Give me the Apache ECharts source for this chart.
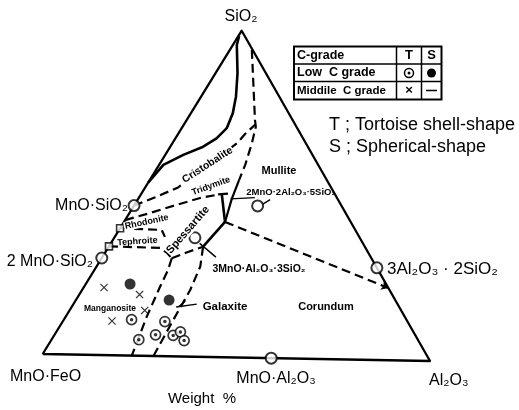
<!DOCTYPE html>
<html>
<head>
<meta charset="utf-8">
<script src="https://cdn.jsdelivr.net/npm/echarts@6/dist/echarts.min.js"></script>
<style>
  html, body { margin: 0; padding: 0; background: #fff; }
  #chart { width: 519px; height: 410px; }
</style>
</head>
<body>
<div id="chart"></div>
<script>
// Every composition is [Al2O3 wt%, SiO2 wt%]; the rest is MnO·FeO.

const triangleOutline = [[0, 0], [100, 0], [0, 100], [0, 0]];

// Two-liquid (immiscibility) boundary, solid
const liquidImmiscibility = [[0, 53], [1.1, 58.5], [4.6, 61.7], [8.4, 64.3], [10.5, 66.9],
  [11.5, 70.1], [10.7, 74.7], [8.9, 79.8], [5.6, 87], [1.0, 95.6], [0.2, 98.3]];

// Field boundaries, dashed
const cristobaliteMullite = [[5.6, 94.2], [17.4, 72.8], [18.7, 70.7], [20.3, 65.6], [22.0, 58.9], [22.8, 54.3]];
const cristobaliteTridymite = [[0, 45.9], [4.1, 48.6], [8.4, 51.7], [16.5, 65.6], [17.1, 68.4], [18.2, 71.4]];
const tridymiteRhodonite = [[0, 41.4], [5.2, 43.7], [10.6, 46.3], [15.7, 48.6], [19.9, 49.8]];
const rhodoniteTephroite = [[0, 38.9], [10.9, 38.6], [12.8, 36.5]];
const tephroiteManganosite = [[0, 33.3], [13.3, 33.1], [15.9, 31.6], [17.9, 30.0]];
const spessartiteGalaxite = [[17.9, 30.0], [20.5, 31.7], [24.1, 33.7]];
const manganositeGalaxite = [[17.9, 30.0], [18.8, 26.4], [19.4, 21.2], [20.7, 12.0], [23.0, 0]];
const galaxiteCorundum = [[24.1, 33.7], [26.5, 27.6], [27.6, 20.4], [28.0, 11.1], [28.6, 0]];
const mulliteCorundum = [[25.8, 41.4], [77.9, 22.1]];

// Field boundaries, solid
const tridymiteMullite = [[22.8, 54.3], [23.9, 48.5], [25.8, 41.4]];
const spessartiteMullite = [[25.8, 41.4], [24.1, 33.7]];
const cordieriteBar = [[19.7, 49.8], [22.1, 50.1]];
const cordieriteStem = [[20.6, 49.9], [25.8, 41.4]];

// Label leaders
const cordieriteLeader = [[23.6, 48.5], [29.6, 49.0]];
const cordieriteArrow = [[32.6, 47.0], [33.8, 48.5]];
const spessartiteLeader = [[22.7, 34.7], [29.0, 30.6]];
const galaxiteLeader = [[31.5, 16.1], [26.7, 15.1]];
const galaxiteTick = [[27.3, 15.3], [28.1, 17.0]];

// Compounds: MnO·SiO2, 2MnO·SiO2, 3Al2O3·2SiO2, MnO·Al2O3, 2MnO·2Al2O3·5SiO2, 3MnO·Al2O3·3SiO2
const compounds = [[0, 45.9], [0, 29.7], [71.8, 28.2], [59.0, 0], [31.6, 46.5], [20.6, 36.4]];
// Binary eutectics on the MnO–SiO2 side
const eutectics = [[0, 38.9], [0, 33.3]];

// Inclusions
const lowGradeTortoise = [[17.3, 11.0], [26.1, 10.6], [25.8, 6.5], [22.3, 4.9], [30.4, 6.4], [31.7, 7.5], [34.0, 4.9]];
const lowGradeSpherical = [[11.3, 21.9], [23.8, 17.2]];
const middleGradeTortoise = [[5.2, 20.7], [15.4, 18.7], [19.2, 13.9], [12.5, 10.5]];

// Corner placement of the triangle on the page
const CORNER_MNO = [42.7, 354];
const CORNER_AL = [430, 361];
const CORNER_SI = [241.7, 30.7];

function toPlane(p) {
  const a = p[0] / 100, s = p[1] / 100;
  return [
    CORNER_MNO[0] + a * (CORNER_AL[0] - CORNER_MNO[0]) + s * (CORNER_SI[0] - CORNER_MNO[0]),
    CORNER_MNO[1] + a * (CORNER_AL[1] - CORNER_MNO[1]) + s * (CORNER_SI[1] - CORNER_MNO[1])
  ];
}

const DASH = [9, 5];

function path(points, opts) {
  opts = opts || {};
  return {
    type: 'line',
    data: points.map(toPlane),
    symbol: 'none',
    silent: true,
    animation: false,
    z: opts.z || 2,
    lineStyle: { color: '#000', width: opts.width || 2.2, type: opts.dashed ? DASH : 'solid', cap: 'butt', join: 'round' }
  };
}

const FONT = '"Liberation Sans", Arial, sans-serif';
const CROSS = 'path://M1,0 L5,4 L9,0 L10,1 L6,5 L10,9 L9,10 L5,6 L1,10 L0,9 L4,5 L0,1 Z';

function text(str, x, y, size, opts) {
  opts = opts || {};
  return {
    type: 'text',
    x: x, y: y,
    rotation: (opts.rotate || 0) * Math.PI / 180,
    z: 100,
    style: {
      text: str,
      font: (opts.bold ? 'bold ' : '') + size + 'px ' + FONT,
      fill: '#000',
      align: opts.align || 'left',
      textAlign: opts.align || 'left',
      verticalAlign: 'middle',
      textVerticalAlign: 'middle',
      backgroundColor: opts.bg ? '#fff' : null,
      padding: opts.bg ? [0, 1] : 0
    }
  };
}

function hline(x1, y, x2, w) {
  return { type: 'line', z: 100, shape: { x1: x1, y1: y, x2: x2, y2: y }, style: { stroke: '#000', lineWidth: w || 1.5 } };
}
function vline(x, y1, y2, w) {
  return { type: 'line', z: 100, shape: { x1: x, y1: y1, x2: x, y2: y2 }, style: { stroke: '#000', lineWidth: w || 1.5 } };
}

const mulliteEnds = mulliteCorundum.map(toPlane);

const option = {
  animation: false,
  grid: { left: 0, right: 0, top: 0, bottom: 0 },
  xAxis: { type: 'value', min: 0, max: 519, show: false },
  yAxis: { type: 'value', min: 0, max: 410, inverse: true, show: false },
  series: [
    path(triangleOutline, { width: 2.3 }),
    path(liquidImmiscibility, { width: 2.6 }),
    path(cristobaliteMullite, { dashed: true }),
    path(cristobaliteTridymite, { dashed: true }),
    path(tridymiteRhodonite, { dashed: true }),
    path(rhodoniteTephroite, { dashed: true }),
    path(tephroiteManganosite, { dashed: true }),
    path(spessartiteGalaxite, { dashed: true }),
    path(manganositeGalaxite, { dashed: true }),
    path(galaxiteCorundum, { dashed: true }),
    path(tridymiteMullite, { width: 2.2 }),
    path(spessartiteMullite, { width: 2.6 }),
    path(cordieriteBar, { width: 2.2 }),
    path(cordieriteStem, { width: 2.6 }),
    path(cordieriteLeader, { width: 1.4 }),
    path(cordieriteArrow, { width: 1.4 }),
    path(spessartiteLeader, { width: 1.4 }),
    path(galaxiteLeader, { width: 1.4 }),
    path(galaxiteTick, { width: 1.4 }),
    {
      type: 'lines',
      coordinateSystem: 'cartesian2d',
      silent: true,
      z: 2,
      symbol: ['none', 'arrow'],
      symbolSize: 7,
      lineStyle: { color: '#000', width: 2.2, type: DASH, opacity: 1 },
      data: [{ coords: mulliteEnds }]
    },
    {
      type: 'scatter', silent: true, z: 5,
      data: compounds.map(toPlane),
      symbol: 'circle', symbolSize: 11,
      itemStyle: { color: '#fff', borderColor: '#000', borderWidth: 2 }
    },
    {
      type: 'scatter', silent: true, z: 5,
      data: eutectics.map(toPlane),
      symbol: 'rect', symbolSize: 7,
      itemStyle: { color: '#fff', borderColor: '#000', borderWidth: 1.6 }
    },
    {
      type: 'scatter', silent: true, z: 5,
      data: lowGradeTortoise.map(toPlane),
      symbol: 'circle', symbolSize: 10,
      itemStyle: { color: '#fff', borderColor: '#000', borderWidth: 1.7 }
    },
    {
      type: 'scatter', silent: true, z: 6,
      data: lowGradeTortoise.map(toPlane),
      symbol: 'circle', symbolSize: 3.5,
      itemStyle: { color: '#000' }
    },
    {
      type: 'scatter', silent: true, z: 5,
      data: lowGradeSpherical.map(toPlane),
      symbol: 'circle', symbolSize: 11,
      itemStyle: { color: '#000' }
    },
    {
      type: 'scatter', silent: true, z: 5,
      data: middleGradeTortoise.map(toPlane),
      symbol: CROSS, symbolSize: 8,
      itemStyle: { color: '#000' }
    }
  ],
  graphic: [
    // corner and compound names
    text('SiO₂', 241, 17, 16, { align: 'center' }),
    text('MnO·SiO₂', 128, 206, 16, { align: 'right' }),
    text('2 MnO·SiO₂', 93, 262, 16, { align: 'right' }),
    text('3Al₂O₃ · 2SiO₂', 387, 269.5, 17),
    text('MnO·FeO', 10, 377, 16),
    text('MnO·Al₂O₃', 276, 379, 16, { align: 'center' }),
    text('Al₂O₃', 429, 381, 16),
    text('Weight  %', 202, 399, 15, { align: 'center' }),
    text('T ; Tortoise shell-shape', 329, 125, 18),
    text('S ; Spherical-shape', 329, 147, 18),

    // field names
    text('Cristobalite', 207.5, 165, 10.5, { bold: true, rotate: 33, align: 'center', bg: true }),
    text('Tridymite', 211, 186, 9, { bold: true, rotate: 20, align: 'center', bg: true }),
    text('Mullite', 279, 170.5, 11, { bold: true, align: 'center' }),
    text('2MnO·2Al₂O₃·5SiO₂', 291, 192, 9.5, { bold: true, align: 'center' }),
    text('Rhodonite', 146.7, 222, 9, { bold: true, rotate: 12, align: 'center', bg: true }),
    text('Tephroite', 137.5, 241.5, 9, { bold: true, rotate: 4, align: 'center' }),
    text('Spessartite', 188, 230, 11, { bold: true, rotate: 49, align: 'center', bg: true }),
    text('3MnO·Al₂O₃·3SiO₂', 259, 269.5, 10.5, { bold: true, align: 'center' }),
    text('Manganosite', 110, 309, 8.5, { bold: true, align: 'center' }),
    text('Galaxite', 225, 306.5, 11.5, { bold: true, align: 'center' }),
    text('Corundum', 326, 306.5, 11, { bold: true, align: 'center' }),

    // key table
    { type: 'rect', z: 100, shape: { x: 294, y: 46.5, width: 147.5, height: 53 }, style: { fill: '#fff', stroke: '#000', lineWidth: 2 } },
    hline(294, 64, 441.5),
    hline(294, 81.5, 441.5),
    vline(396.5, 46.5, 99.5),
    vline(421.5, 46.5, 99.5),
    text('C-grade', 297, 55.5, 12.5, { bold: true }),
    text('T', 409, 55.5, 13, { bold: true, align: 'center' }),
    text('S', 431.5, 55.5, 13, { bold: true, align: 'center' }),
    text('Low  C grade', 297, 73, 12.5, { bold: true }),
    text('Middile  C grade', 297, 90.5, 11.5, { bold: true }),
    { type: 'circle', z: 101, shape: { cx: 409, cy: 73, r: 4.5 }, style: { fill: '#fff', stroke: '#000', lineWidth: 1.5 } },
    { type: 'circle', z: 101, shape: { cx: 409, cy: 73, r: 1.5 }, style: { fill: '#000' } },
    { type: 'circle', z: 101, shape: { cx: 431.5, cy: 73, r: 4.5 }, style: { fill: '#000' } },
    text('×', 409, 90.5, 13, { bold: true, align: 'center' }),
    hline(426, 90.5, 437, 1.5)
  ]
};

const chart = echarts.init(document.getElementById('chart'), null, { renderer: 'canvas' });
chart.setOption(option);
</script>
</body>
</html>
